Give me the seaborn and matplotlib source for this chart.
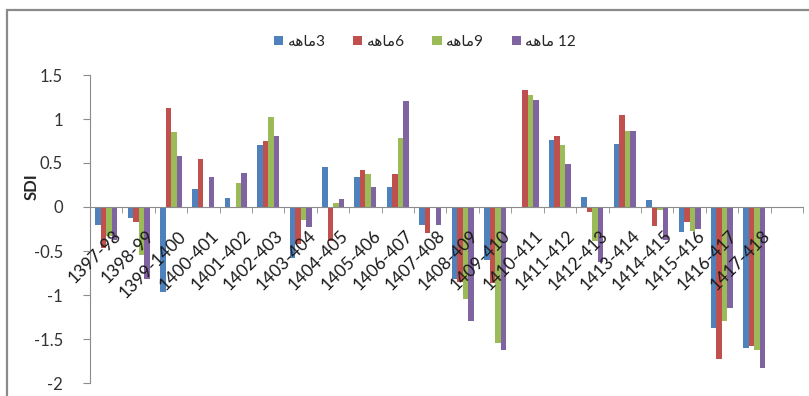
import matplotlib
matplotlib.use("Agg")
import matplotlib.pyplot as plt
import matplotlib.transforms as mtransforms
from matplotlib.lines import Line2D
from matplotlib.patches import Patch
import numpy as np
import pandas as pd
import seaborn as sns

# --- data -------------------------------------------------------------
periods = ["1397-98", "1398-99", "1399-1400", "1400-401", "1401-402",
           "1402-403", "1403-404", "1404-405", "1405-406", "1406-407",
           "1407-408", "1408-409", "1409-410", "1410-411", "1411-412",
           "1412-413", "1413-414", "1414-415", "1415-416", "1416-417",
           "1417-418"]

sdi_3 = [-0.20, -0.12, -0.97, 0.21, 0.10, 0.70, -0.58, 0.45, 0.34, 0.23,
         -0.20, -0.82, -0.60, 0.00, 0.76, 0.11, 0.72, 0.08, -0.28, -1.38, -1.60]
sdi_6 = [-0.47, -0.17, 1.13, 0.55, 0.00, 0.75, -0.42, -0.39, 0.42, 0.38,
         -0.30, -0.85, -0.86, 1.33, 0.81, -0.06, 1.04, -0.22, -0.17, -1.73, -1.58]
sdi_9 = [-0.33, -0.55, 0.85, 0.00, 0.27, 1.02, -0.15, 0.05, 0.37, 0.78,
         0.00, -1.05, -1.54, 1.27, 0.70, -0.39, 0.86, -0.03, -0.27, -1.30, -1.62]
sdi_12 = [-0.38, -0.82, 0.58, 0.34, 0.39, 0.81, -0.23, 0.09, 0.23, 1.21,
          -0.21, -1.29, -1.62, 1.22, 0.49, -0.63, 0.86, -0.37, -0.25, -1.15, -1.83]

# series names (logical order)
scales = ["3ماهه", "6ماهه", "9ماهه", "12 ماهه"]
colors = ["#4F81BD", "#C0504D", "#9BBB59", "#8064A2"]

y_ticks = [-2, -1.5, -1, -0.5, 0, 0.5, 1, 1.5]
y_tick_labels = ["-2", "-1.5", "-1", "-0.5", "0", "0.5", "1", "1.5"]


def to_visual(text):
    """Shape the Persian word with presentation forms and lay it out
    left-to-right, since matplotlib does no bidi or joining."""
    word = "ماهه"
    shaped = "\uFEEA\uFEEB\uFE8E\uFEE3"  # ﻪ ﻫ ﺎ ﻣ in visual order
    number = text.replace(word, "")
    sep = " " if number != number.strip() else ""
    return shaped + sep + number.strip()


df = pd.DataFrame({
    "period": periods * 4,
    "sdi": sdi_3 + sdi_6 + sdi_9 + sdi_12,
    "scale": [s for s in scales for _ in periods],
})

# --- figure -----------------------------------------------------------
sns.set_style("white")
plt.rcParams["font.family"] = ["Lato", "DejaVu Sans"]

W, H = 809, 396
fig = plt.figure(figsize=(W / 100, H / 100), dpi=100)
ax = fig.add_axes([90 / W, 1 - 383 / H, (803 - 90) / W, (383 - 75) / H])

sns.barplot(data=df, x="period", y="sdi", hue="scale", hue_order=scales,
            order=periods, palette=colors, saturation=1, errorbar=None,
            width=0.68, linewidth=0, legend=False, ax=ax)

# axis text is drawn over the bars
ax.set_axisbelow(False)

ax.set_xlim(-0.5, len(periods) + 0.5)
ax.set_ylim(-2, 1.5)

# category axis crosses at zero, value axis on the left
for side in ("top", "right"):
    ax.spines[side].set_visible(False)
ax.spines["bottom"].set_position(("data", 0))
ax.spines["bottom"].set_color("#8C8C8C")
ax.spines["left"].set_color("#8C8C8C")
ax.spines["bottom"].set_linewidth(0.8)
ax.spines["left"].set_linewidth(0.8)

ax.set_yticks(y_ticks)
ax.set_yticklabels(y_tick_labels, fontsize=12, color="#333333")
ax.tick_params(axis="y", direction="out", length=5, color="#8C8C8C",
               left=True, pad=14.5)

ax.set_xticks(range(len(periods)))
ax.set_xticklabels(periods, rotation=45, ha="right", va="top",
                   rotation_mode="anchor", fontsize=12.5, color="#1A1A1A")
ax.tick_params(axis="x", length=0, pad=15, bottom=True)
shift = mtransforms.ScaledTranslation(7 / 100, 0, fig.dpi_scale_trans)
for lbl in ax.get_xticklabels():
    lbl.set_transform(lbl.get_transform() + shift)
ax.set_xticks(np.arange(-0.5, len(periods) + 1, 1), minor=True)
ax.tick_params(axis="x", which="minor", direction="out", length=4,
               color="#8C8C8C", bottom=True)

ax.set_xlabel("")
ax.set_ylabel("SDI", fontsize=12, fontweight="bold")
ax.yaxis.set_label_coords(-0.07, 0.636)

# legend across the top
handles = [Patch(facecolor=c, edgecolor="none") for c in colors]
fig.legend(handles, [to_visual(s) for s in scales], ncol=4,
           loc="center", bbox_to_anchor=(425 / W, 1 - 42 / H),
           frameon=False, fontsize=11, handlelength=0.6, handleheight=0.6,
           handletextpad=0.3, columnspacing=1.8)

# chart frame
frame_kw = dict(color="#8A8A8A", linewidth=1.6, transform=fig.transFigure)
fig.add_artist(Line2D([7.5 / W, 7.5 / W], [0, 1 - 10 / H], **frame_kw))
fig.add_artist(Line2D([7.5 / W, 1], [1 - 10 / H, 1 - 10 / H], **frame_kw))

fig.savefig("out.png", dpi=100)
